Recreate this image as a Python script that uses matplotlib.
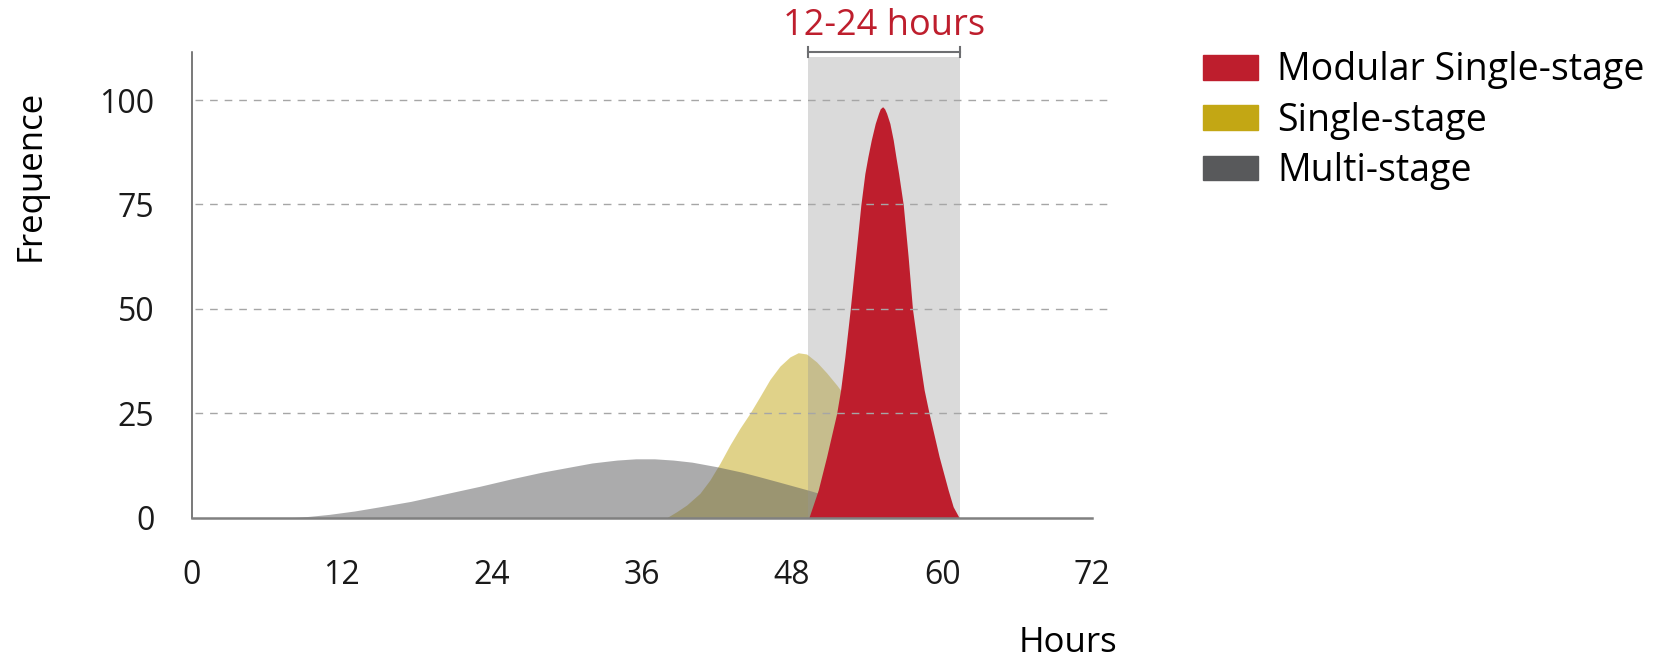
import matplotlib
matplotlib.use("Agg")
import matplotlib.pyplot as plt
from matplotlib.patches import Patch

plt.rcParams['font.family'] = ['Open Sans', 'DejaVu Sans']

# Colours
RED = '#BE1E2D'
YELLOW = '#C3A714'
GRAY = '#58595B'

# Curves (hours, frequence)
multi_hours = [7.6, 8.5, 9.5, 11, 13, 15, 17.5, 20.4, 23, 25.7, 28, 30, 32, 34, 35.5,
               37, 38.5, 40, 42, 44, 45.4, 47, 49.3, 52, 55, 58, 60]
multi_freq = [0, 0.1, 0.35, 0.8, 1.6, 2.6, 3.9, 5.8, 7.5, 9.4, 10.9, 12.0, 13.1, 13.8, 14.1,
              14.1, 13.8, 13.3, 12.2, 10.9, 9.8, 8.5, 6.6, 4.2, 2.2, 0.8, 0]

single_hours = [37.97, 38.77, 39.57, 40.63, 41.43, 42.23, 43.03, 43.83, 44.63, 45.43, 46.23,
                47.03, 47.83, 48.49, 49.16, 49.96, 50.76, 51.56, 51.96, 53, 54, 55, 56,
                57, 58, 59, 60, 61]
single_freq = [0, 1.44, 3.04, 5.84, 9.03, 13.0, 17.4, 21.4, 25.0, 29.0, 33.1,
               36.3, 38.5, 39.5, 39.2, 37.3, 34.7, 31.8, 30.2, 25.5, 21, 16.5, 12.5,
               9, 6, 3.5, 1.5, 0]

modular_hours = [49.34, 49.64, 50.09, 50.76, 51.56, 51.88, 52.22, 52.65, 53.08, 53.50,
                 53.82, 54.06, 54.33, 54.65, 54.91, 55.05, 55.24, 55.4, 55.56, 55.82,
                 56.09, 56.30, 56.52, 56.89, 57.28, 57.63, 58.16, 58.56, 58.96, 59.76,
                 60.48, 60.88, 61.36]
modular_freq = [0, 2.63, 6.63, 14.6, 24.9, 30.6, 38.5, 49.9, 62.5, 74.9,
                82.4, 86.4, 90.4, 94.4, 96.8, 97.9, 98.4, 97.9, 96.8, 94.4,
                90.4, 86.4, 82.4, 74.9, 62.5, 49.9, 38.5, 30.6, 24.9, 14.6,
                6.63, 2.63, 0]

# 12-24 hours window
window_hours = [49.3, 61.4]
window_label = '12-24 hours'

x_ticks = [0, 12, 24, 36, 48, 60, 72]
y_ticks = [0, 25, 50, 75, 100]
series_names = ['Modular Single-stage', 'Single-stage', 'Multi-stage']

fig = plt.figure(figsize=(16.66, 6.6), dpi=100)
ax = fig.add_axes([0.1151, 0.2156, 0.5405, 0.7056])

ax.fill_between(single_hours, 0, single_freq, color=YELLOW, alpha=0.5, lw=0, zorder=1)
ax.fill_between(multi_hours, 0, multi_freq, color=GRAY, alpha=0.5, lw=0, zorder=2)
ax.fill_between(window_hours, 0, 110.3, color='#969696', alpha=0.35, lw=0, zorder=3)
ax.fill_between(modular_hours, 0, modular_freq, color=RED, lw=0, zorder=4)

# dashed gridlines on top of everything
for yv in y_ticks[1:]:
    ax.axhline(yv, xmin=0.004, xmax=1.0175, color='#A6A6A6', lw=1.0,
               ls=(0, (5.5, 5)), zorder=6, clip_on=False)

# bracket over the window
top = 111.4
ax.plot(window_hours, [top, top], color='#6D6E71', lw=1.5, clip_on=False, zorder=7)
for xv in window_hours:
    ax.plot([xv, xv], [110.2, 112.6], color='#6D6E71', lw=1.5, clip_on=False, zorder=7)
ax.text(sum(window_hours) / 2, 115.6, window_label, color=RED, fontsize=26,
        ha='center', va='baseline')

ax.set_xlim(0, 72)
ax.set_ylim(0, 111.5)
ax.set_xticks(x_ticks)
ax.set_yticks(y_ticks)
ax.tick_params(length=0, labelsize=23, labelcolor='#1a1a1a')
ax.tick_params(axis='x', pad=30)
ax.tick_params(axis='y', pad=27)

for side in ['top', 'right']:
    ax.spines[side].set_visible(False)
ax.spines['left'].set_color('#555555')
ax.spines['left'].set_linewidth(1.1)
ax.spines['bottom'].set_color('#808080')
ax.spines['bottom'].set_linewidth(1.8)
ax.spines['bottom'].set_zorder(8)

ax.set_xlabel('Hours', fontsize=25)
ax.xaxis.set_label_coords(0.9725, -0.268)
ax.xaxis.label.set_verticalalignment('center')
ax.set_ylabel('Frequence', fontsize=25)
ax.yaxis.set_label_coords(-0.179, 0.735)
ax.yaxis.label.set_verticalalignment('center')

handles = [Patch(color=RED), Patch(color=YELLOW), Patch(color=GRAY)]
ax.legend(handles, series_names, loc='upper left', bbox_to_anchor=(0.7219, 0.922),
          bbox_transform=fig.transFigure, frameon=False, fontsize=27,
          handlelength=1.47, handleheight=0.64, handletextpad=0.52,
          labelspacing=0.33, borderpad=0, borderaxespad=0)

fig.savefig('out.png', dpi=100)
